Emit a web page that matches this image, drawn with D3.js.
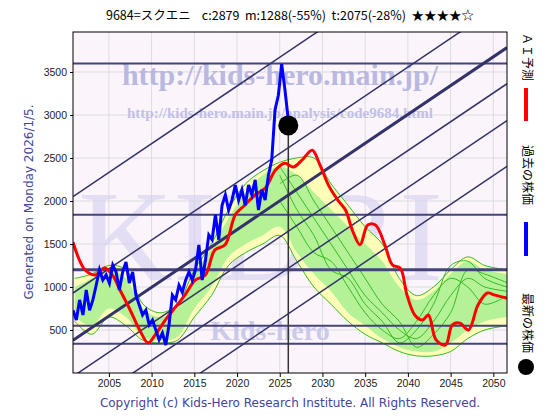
<!DOCTYPE html>
<html><head><meta charset="utf-8">
<script src="https://cdn.jsdelivr.net/npm/d3@7"></script>
<style>body{margin:0;background:#fff}svg{font-family:"DejaVu Sans",sans-serif}</style>
</head><body><svg id="c" width="560" height="420"></svg>
<script>
// values
var xTicks = [2005, 2010, 2015, 2020, 2025, 2030, 2035, 2040, 2045, 2050];
var yTicks = [500, 1000, 1500, 2000, 2500, 3000, 3500];
var hLines = [3600, 1840, 1200, 550, 340];
var channelBase = [-1000, -470, -40, 380, 930, 2050]; // value at 2000.8
var channelSlope = 67;
var latest = {year: 2026.0, value: 2879};

var redYears = [2000.8,2002.2,2003.4,2004.5,2005.4,2006.3,2007.5,2008.6,2009.6,2010.4,2011.6,2012.7,2013.9,2015.1,2016.3,2017.4,2018.6,2019.8,2020.9,2022.1,2023.3,2024.5,2025.6,2026.6,2027.6,2028.8,2029.7,2030.7,2031.8,2032.7,2033.5,2034.4,2035.3,2036.2,2037.3,2038.2,2039.1,2039.9,2040.8,2041.7,2042.4,2043.3,2044.4,2045.2,2046.1,2047.1,2048.2,2049.3,2050.2,2051.6];
var redValues = [1520,1200,1140,1220,1140,965,730,500,350,440,615,755,905,1080,1140,1430,1490,1840,1950,2070,2150,2360,2440,2395,2475,2590,2420,2185,2010,1895,1660,1490,1720,1720,1490,1255,1220,905,675,615,675,385,325,560,580,500,790,930,905,870];

var blueStart = 2000.8, blueEnd = 2026.0;
var blueValues = [730,615,850,675,965,730,850,1020,1200,1080,1140,1045,1255,1175,965,1175,1290,1045,1175,905,790,675,730,560,615,500,385,465,325,560,905,850,1020,940,1080,1175,1080,1200,1490,1080,1315,1605,1550,1840,1550,1950,2070,1895,2010,2185,2010,2130,1950,2185,2070,2245,1895,2130,2010,2300,2475,3060,3230,3590,3290,2940];

var bandYears = [2001,2003,2005,2007,2009,2011,2013,2015,2017,2019,2021,2023,2025,2027,2029,2031,2033,2035,2037,2039,2041,2043,2045,2047,2049,2051.6];
var yellowHi = [1100,1150,1250,1200,800,700,800,1200,1500,1900,2200,2350,2450,2500,2500,2200,1950,1700,1500,1100,900,1000,1200,1350,1250,1200];
var yellowLo = [600,450,650,550,380,350,380,650,900,1250,1400,1500,1600,1300,1000,800,600,450,350,250,200,200,250,400,500,550];
var greenHi = [1000,1100,1200,1100,750,650,750,1150,1450,1800,2100,2300,2400,2300,2100,1900,1700,1500,1300,1000,850,950,1150,1300,1200,1150];
var greenLo = [650,550,750,650,420,380,420,750,1000,1350,1500,1600,1700,1400,1150,950,700,550,400,300,250,250,350,500,600,650];

var lineYears = [2025,2027,2029,2031,2033,2035,2037,2039,2041,2043,2045,2047,2049,2051.6];
var greenLines = [
  [2400,2100,1800,1500,1200,900,700,500,400,600,900,1100,1000,950],
  [2200,2300,2000,1700,1400,1100,800,600,300,450,700,1200,1150,1050],
  [2000,1700,1400,1300,1000,700,500,400,600,900,1100,1000,800,900],
  [2300,1900,1600,1200,1100,800,600,350,500,800,1250,1300,1100,1000]
];

var svg = d3.select('#c');
var L = 73, R = 507, T = 32, B = 373;
var x = d3.scaleLinear().domain([2000.8, 2051.6]).range([L, R]);
var y = d3.scaleLinear().domain([0, 3965]).range([B, T]);

svg.append('rect').attr('x', L).attr('y', T).attr('width', R - L).attr('height', B - T).attr('fill', '#fbf5fb');
svg.append('defs').append('clipPath').attr('id', 'clip')
  .append('rect').attr('x', L).attr('y', T).attr('width', R - L).attr('height', B - T);
var g = svg.append('g').attr('clip-path', 'url(#clip)');

// grid
g.selectAll('.gx').data(xTicks).join('line').attr('x1', x).attr('x2', x).attr('y1', T).attr('y2', B).attr('stroke', '#ddd');
g.selectAll('.gy').data(yTicks).join('line').attr('y1', y).attr('y2', y).attr('x1', L).attr('x2', R).attr('stroke', '#ddd');

// watermarks
g.append('text').attr('x', 78).attr('y', 280).attr('font-family', 'Liberation Serif')
  .attr('font-size', 130).attr('textLength', 365).attr('lengthAdjust', 'spacingAndGlyphs')
  .attr('fill', '#d4d0f0').attr('opacity', 0.6).text('KIDRI');
g.append('text').attr('x', 280).attr('y', 85).attr('text-anchor', 'middle').attr('font-family', 'Liberation Serif')
  .attr('font-weight', 'bold').attr('font-size', 30).attr('fill', '#b8b8e0').text('http://kids-hero.main.jp/');
g.append('text').attr('x', 280).attr('y', 118).attr('text-anchor', 'middle').attr('font-family', 'Liberation Serif')
  .attr('font-weight', 'bold').attr('font-size', 15).attr('fill', '#c0c0e8').text('http://kids-hero.main.jp/analysis/code9684.html');
g.append('text').attr('x', 270).attr('y', 340).attr('text-anchor', 'middle').attr('font-family', 'Liberation Serif')
  .attr('font-weight', 'bold').attr('font-size', 28).attr('fill', '#c0c0e8').attr('opacity', 0.8).text('Kids-hero');

// bands
var ix = d3.range(bandYears.length);
function area(hi, lo) {
  return d3.area().x(function (i) { return x(bandYears[i]); })
    .y0(function (i) { return y(lo[i]); }).y1(function (i) { return y(hi[i]); }).curve(d3.curveCatmullRom);
}
g.append('path').attr('d', area(yellowHi, yellowLo)(ix)).attr('fill', '#ffffb0').attr('opacity', 0.9);
g.append('path').attr('d', area(greenHi, greenLo)(ix)).attr('fill', '#a8f090').attr('opacity', 0.85);
var gl = d3.line().x(function (d, i) { return x(lineYears[i]); }).y(function (d) { return y(d); }).curve(d3.curveCatmullRom);
greenLines.forEach(function (s) {
  g.append('path').attr('d', gl(s)).attr('fill', 'none').attr('stroke', '#33bb22').attr('stroke-width', 1);
});
[yellowHi, yellowLo].forEach(function (s) {
  g.append('path').attr('d', d3.line().x(function (d, i) { return x(bandYears[i]); }).y(y).curve(d3.curveCatmullRom)(s))
    .attr('fill', 'none').attr('stroke', '#33bb22').attr('stroke-width', 1);
});

// horizontal and channel lines
g.selectAll('.h').data(hLines).join('line').attr('x1', L).attr('x2', R).attr('y1', y).attr('y2', y)
  .attr('stroke', '#44447a').attr('stroke-width', function (d) { return d === 1200 ? 3 : 2; });
g.selectAll('.ch').data(channelBase).join('line')
  .attr('x1', x(2000.8)).attr('y1', function (d) { return y(d); })
  .attr('x2', x(2051.6)).attr('y2', function (d) { return y(d + channelSlope * 50.8); })
  .attr('stroke', '#33336a').attr('stroke-width', function (d) { return d === 380 ? 3 : 1.5; });

// vertical now line
g.append('line').attr('x1', x(latest.year)).attr('x2', x(latest.year)).attr('y1', y(latest.value)).attr('y2', B)
  .attr('stroke', '#333').attr('stroke-width', 1.5);

// red AI prediction
g.append('path').attr('d', d3.line().x(function (d, i) { return x(redYears[i]); }).y(y).curve(d3.curveCatmullRom)(redValues))
  .attr('fill', 'none').attr('stroke', '#ff0000').attr('stroke-width', 3);

// blue past price
var step = (blueEnd - blueStart) / (blueValues.length - 1);
g.append('path').attr('d', d3.line().x(function (d, i) { return x(blueStart + i * step); }).y(y)(blueValues))
  .attr('fill', 'none').attr('stroke', '#0000ff').attr('stroke-width', 3);

g.append('circle').attr('cx', x(latest.year)).attr('cy', y(latest.value)).attr('r', 10).attr('fill', '#000');

svg.append('rect').attr('x', L).attr('y', T).attr('width', R - L).attr('height', B - T).attr('fill', 'none').attr('stroke', '#000');

// axes
svg.append('g').attr('transform', 'translate(0,' + B + ')')
  .call(d3.axisBottom(x).tickValues(xTicks).tickFormat(d3.format('d')).tickSize(4))
  .call(function (a) { a.select('.domain').remove(); a.selectAll('text').attr('font-size', 10.5).attr('fill', '#222'); });
svg.append('g').attr('transform', 'translate(' + L + ',0)')
  .call(d3.axisLeft(y).tickValues(yTicks).tickFormat(d3.format('d')).tickSize(3))
  .call(function (a) { a.select('.domain').remove(); a.selectAll('text').attr('font-size', 10.5).attr('fill', '#222'); });

// texts
svg.append('text').attr('x', 290).attr('y', 20).attr('text-anchor', 'middle').attr('font-size', 12.5)
  .attr('font-family', 'Noto Sans CJK JP').attr('xml:space', 'preserve')
  .text('9684=スクエニ    c:2879  m:1288(-55%)  t:2075(-28%)  ★★★★☆');
svg.append('text').attr('transform', 'translate(33,202) rotate(-90)').attr('text-anchor', 'middle')
  .attr('font-size', 12).attr('fill', '#44449a').text('Generated on Monday 2026/1/5.');
svg.append('text').attr('x', 290).attr('y', 407).attr('text-anchor', 'middle')
  .attr('font-size', 12).attr('fill', '#44449a').text('Copyright (c) Kids-Hero Research Institute. All Rights Reserved.');

// legend
var leg = svg.append('g').attr('font-family', 'Noto Sans CJK JP').attr('font-size', 12);
leg.append('text').attr('transform', 'translate(523,33) rotate(90)').text('ＡＩ予測');
leg.append('rect').attr('x', 524).attr('y', 88).attr('width', 4).attr('height', 33).attr('fill', '#ff0000');
leg.append('text').attr('transform', 'translate(523,145) rotate(90)').text('過去の株価');
leg.append('rect').attr('x', 524).attr('y', 222).attr('width', 4).attr('height', 34).attr('fill', '#0000ff');
leg.append('text').attr('transform', 'translate(523,293) rotate(90)').text('最新の株価');
leg.append('circle').attr('cx', 526).attr('cy', 367).attr('r', 8).attr('fill', '#000');
</script></body></html>
